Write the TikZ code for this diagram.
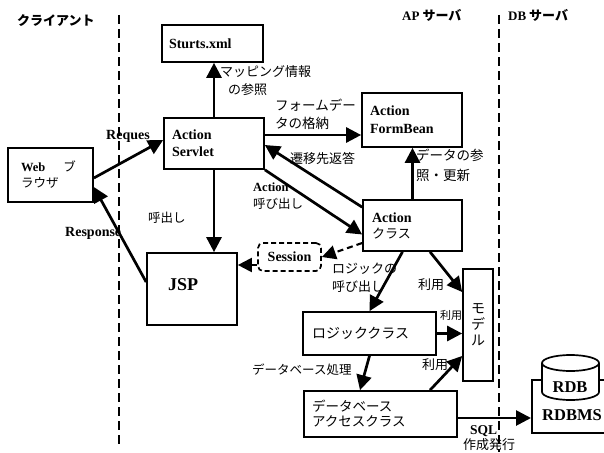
\documentclass[tikz,border=0pt]{standalone}
\usepackage{fontspec}
\setmainfont{Liberation Serif}
\newfontfamily\jp{Noto Sans CJK JP}
\newcommand\jtxt[1]{{\jp\mdseries #1}}
\usetikzlibrary{arrows.meta}
\tikzset{
  box/.style={draw, line width=1.7pt, inner ysep=0pt, align=left,
    font=\bfseries\fontsize{14}{17}\selectfont},
  arr/.style={line width=2.7pt, -{Triangle[length=15pt,width=15pt]}},
  darr/.style={line width=2.1pt, dash pattern=on 6pt off 4pt, -{Triangle[length=14pt,width=14pt]}},
  sepline/.style={line width=2pt, dash pattern=on 9pt off 5pt},
  lj/.style={font=\jp\fontsize{13}{18}\selectfont, inner sep=0pt, align=left, anchor=west},
  lt/.style={font=\bfseries\fontsize{14}{17}\selectfont, inner sep=0pt, align=left, anchor=west},
  hdr/.style={font=\jp\bfseries\fontsize{13}{15}\selectfont, inner sep=0pt, anchor=west},
}
\begin{document}
\begin{tikzpicture}[x=1pt,y=-1pt]
\useasboundingbox (0,0) rectangle (604,452);
\fill[white] (0,0) rectangle (604,452);
\clip (0,0) rectangle (604,452);

% tier separators
\draw[sepline] (119,15) -- (119,447);
\draw[sepline] (499,15) -- (499,452);

% headers
\node[hdr] (hcl) at (17,21) {クライアント};
\node[hdr] (hap) at (402,15) {{\rmfamily AP} サーバ};
\node[hdr] (hdb) at (508,15) {{\rmfamily DB} サーバ};

% boxes
\node[box, minimum width=101pt, minimum height=37pt, inner xsep=7pt, text width=87pt] (sturts) at (212.5,43.5) {Sturts.xml};
\node[box, minimum width=100pt, minimum height=51pt, inner xsep=8pt, text width=84pt] (servlet) at (214,143.5) {Action\\Servlet};
\node[box, minimum width=100pt, minimum height=54pt, inner xsep=8pt, text width=84pt, font=\bfseries\fontsize{14}{18}\selectfont] (formbean) at (412,120) {Action\\FormBean};
\node[box, minimum width=85pt, minimum height=54pt, inner xsep=13pt, text width=59pt, font=\bfseries\fontsize{12.5}{16}\selectfont] (web) at (50.5,175) {Web\hspace{18pt}\jtxt{ブ}\\\jtxt{ラウザ}};
\node[box, minimum width=99pt, minimum height=51pt, inner xsep=9pt, text width=81pt, font=\bfseries\fontsize{14}{16}\selectfont] (actcls) at (412.5,225.5) {Action\\\jtxt{\fontsize{13}{16}\selectfont クラス}};
\node[box, minimum width=90pt, minimum height=72pt, inner xsep=21pt, text width=48pt, font=\bfseries\fontsize{18}{20}\selectfont] (jsp) at (192,289) {\raisebox{8pt}{JSP}};
\node[box, dash pattern=on 5pt off 3pt, rounded corners=5pt, align=center, minimum width=63pt, minimum height=28pt, inner xsep=0pt] (session) at (289.5,257) {Session};
\node[box, minimum width=30pt, minimum height=112pt, inner xsep=0pt, align=center, font=\jp\fontsize{14}{16}\selectfont] (model) at (478,325) {モ\\デ\\ル};
\node[box, minimum width=133pt, minimum height=43pt, inner xsep=9pt, text width=115pt, font=\jp\fontsize{14}{16}\selectfont] (logic) at (369.5,333.5) {ロジッククラス};
\node[box, minimum width=153pt, minimum height=46pt, inner xsep=8pt, text width=137pt, font=\jp\fontsize{13.5}{15}\selectfont] (dbacc) at (380.5,414) {データベース\\アクセスクラス};
\node[box, minimum width=90pt, minimum height=53pt, anchor=north west] (rdbms) at (531,379) {};

% database cylinder
\filldraw[line width=1.7pt, fill=white] (542,363) -- (542,392)
  arc[start angle=180, end angle=360, x radius=28.5pt, y radius=8pt]
  -- (599,363)
  arc[start angle=0, end angle=180, x radius=28.5pt, y radius=8pt] -- cycle;
\draw[line width=1.7pt] (542,363) arc[start angle=180, end angle=360, x radius=28.5pt, y radius=8pt];
\node[font=\bfseries\fontsize{16.5}{18}\selectfont, inner sep=0pt] (rdb) at (570,387) {RDB};
\node[font=\bfseries\fontsize{16.5}{18}\selectfont, inner sep=0pt] (rdbmstxt) at (572,415) {RDBMS};

% connectors
\draw[arr] (servlet.north) -- (servlet.north |- sturts.south);
\draw[arr] ([yshift=8.5pt]servlet.east) coordinate (p1) -- (p1 -| formbean.west);
\draw[arr] (actcls.north) -- (actcls.north |- formbean.south);
\draw[arr] ([yshift=-8pt]actcls.north west) -- ([yshift=-1.5pt]servlet.east);
\draw[arr] (servlet.south east) -- ([yshift=-9pt]actcls.west);
\draw[arr] (servlet.south) -- (servlet.south |- jsp.north);
\draw[arr] ([yshift=-3pt]web.east) -- ([yshift=3.5pt]servlet.west);
\draw[arr] ([yshift=7pt]jsp.west) -- ([yshift=-12pt]web.east);
\draw[darr] ([yshift=-8pt]session.west) coordinate (p2) -- (p2 -| jsp.east);
\draw[darr] ([yshift=-17.5pt]actcls.west) -- (session.east);
\draw[arr] ([xshift=-10pt]actcls.south) -- (logic.north);
\draw[arr] ([xshift=17.5pt]actcls.south) -- ([yshift=33pt]model.west);
\draw[arr] (logic.east) -- (logic.east -| model.west);
\draw[arr] ([xshift=49.5pt]dbacc.north) -- ([yshift=-31pt]model.west);
\draw[arr] (logic.south) -- ([xshift=-20.5pt]dbacc.north);
\draw[arr] ([yshift=-4pt]dbacc.east) coordinate (p3) -- (p3 -| rdbms.west);

% connector labels
\node[lj] (l1) at (220,81) {マッピング情報\\\hspace*{8pt}の参照};
\node[lj, font=\jp\fontsize{13.5}{18}\selectfont] (l2) at (275,114) {フォームデー\\タの格納};
\node[lj] (l3) at (290,158) {遷移先返答};
\node[lj, font=\fontsize{12.5}{17}\selectfont] (l4) at (253,196.5) {\textbf{Action}\\\jtxt{呼び出し}};
\node[lj, font=\jp\fontsize{13.5}{20}\selectfont] (l5) at (416,165) {データの参\\照・更新};
\node[lt] (l6) at (106,136) {Reques};
\node[lt] (l7) at (65,233) {Response};
\node[lj, font=\jp\fontsize{12.5}{15}\selectfont] (l8) at (148,218) {呼出し};
\node[lj] (l9) at (332,278) {ロジックの\\呼び出し};
\node[lj] (l10) at (418,285) {利用};
\node[lj, font=\jp\fontsize{11}{13}\selectfont] (l11) at (440,315) {利用};
\node[lj] (l12) at (422,365) {利用};
\node[lj, font=\jp\fontsize{12.5}{15}\selectfont] (l13) at (252,370) {データベース処理};
\node[lt, font=\bfseries\fontsize{13.5}{15}\selectfont] (l14) at (470,431) {SQL};
\node[lj] (l15) at (463,445) {作成発行};
\end{tikzpicture}
\end{document}
